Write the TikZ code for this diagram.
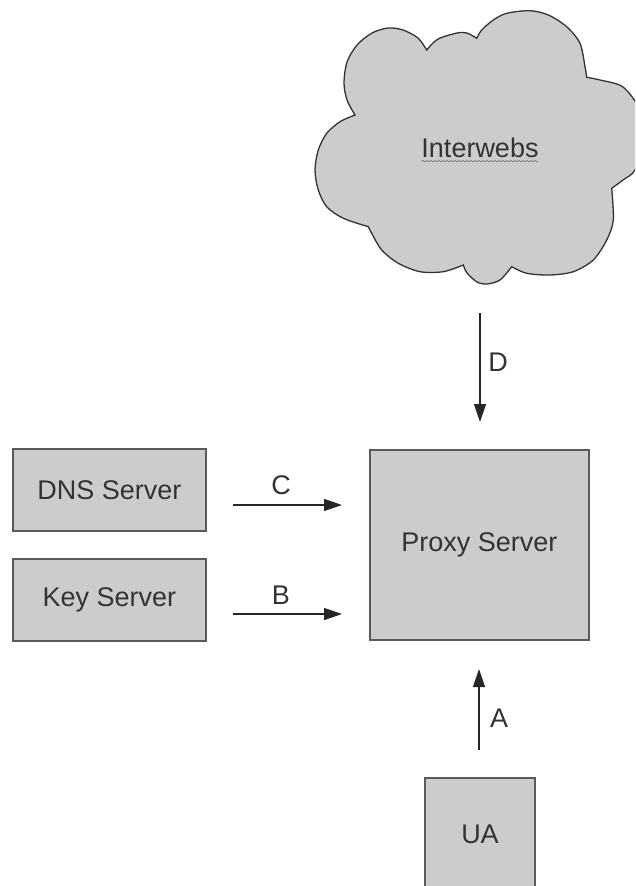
\documentclass[tikz,border=0pt]{standalone}
\usepackage{fontspec}
\setmainfont{Liberation Sans}
\usetikzlibrary{arrows.meta,decorations.pathmorphing}
\definecolor{boxfill}{HTML}{CCCCCC}
\definecolor{boxline}{HTML}{5A5A5A}
\definecolor{inktext}{HTML}{333333}
\definecolor{cloudline}{HTML}{333333}
\tikzset{
  server/.style={draw=boxline, fill=boxfill, line width=1.4pt, inner sep=0pt,
    text=inktext, font=\fontsize{27}{32}\selectfont},
  flow/.style={draw=black!85, line width=1.3pt,
    -{Triangle[length=18pt,width=12pt]}},
  flowlabel/.style={text=inktext, font=\fontsize{27}{32}\selectfont, inner sep=0pt}
}
\begin{document}
\begin{tikzpicture}[x=1pt,y=-1pt]
\useasboundingbox (0,0) rectangle (635,886);
\clip (0,0) rectangle (635,886);

% cloud outline made of lobes meeting at sharp notches
\draw[fill=boxfill, draw=cloudline, line width=1.3pt]
  plot[smooth] coordinates {(426.7,50) (418,38) (403,30) (388,28) (372,33) (357,45) (347,62) (344,83) (347,100) (355,115)}
  -- plot[smooth] coordinates {(355,115) (340,121.7) (326.7,133.3) (318.3,150) (315,170) (318.3,190) (326.7,206.7) (343.3,218.3) (368.3,226.7)}
  -- plot[smooth] coordinates {(368.3,226.7) (371.7,233.3) (381.7,250) (398.3,263.3) (420,271.7) (443.3,271.7) (463.3,265)}
  -- plot[smooth] coordinates {(463.3,265) (467,273) (477,282) (487,284) (500,280) (511.7,266.7)}
  -- plot[smooth] coordinates {(511.7,266.7) (526.7,273.3) (550,275) (573.3,271.7) (593.3,260) (606.7,240) (613.3,220) (611.7,188.3)}
  -- plot[smooth] coordinates {(611.7,188.3) (623,180) (635,170) (645,140) (640,110) (623,87) (600,80) (586.7,77.3)}
  -- plot[smooth] coordinates {(586.7,77.3) (585,66.7) (580,43.3) (566.7,26.7) (548.3,15) (530,10.7) (506.7,13.3) (493.3,20) (481.7,30) (476.7,38.3)}
  -- plot[smooth] coordinates {(476.7,38.3) (467,33) (457,33) (440,38) (433,43) (426.7,50)}
  -- cycle;
\node[flowlabel] (net) at (480,148) {Interwebs};
\draw[boxline!80, line width=0.6pt, decorate,
  decoration={snake, amplitude=0.9pt, segment length=4pt}]
  ([yshift=-3pt]net.south west) -- ([yshift=-3pt]net.south east);

% servers
\node[server, minimum width=193pt, minimum height=82pt] (dns) at (109.5,490) {DNS Server};
\node[server, minimum width=193pt, minimum height=82pt] (key) at (109.5,600) {Key Server};
\node[server, minimum width=219pt, minimum height=190pt] (proxy) at (479.5,545) {Proxy Server};
\node[server, minimum width=110pt, minimum height=112pt] (ua) at (480,834) {UA};

% arrow end points
\coordinate (c1) at (233,505); \coordinate (c2) at (342,505);
\coordinate (b1) at (233,614); \coordinate (b2) at (342,614);
\coordinate (d1) at (480,313); \coordinate (d2) at (480,422);
\coordinate (a1) at (479,750); \coordinate (a2) at (479,669);

\draw[flow] (c1) -- (c2);
\draw[flow] (b1) -- (b2);
\draw[flow] (d1) -- (d2);
\draw[flow] (a1) -- (a2);

\node[flowlabel] (lc) at (281,485) {C};
\node[flowlabel] (lb) at (281,595) {B};
\node[flowlabel] (ld) at (498,362) {D};
\node[flowlabel] (la) at (499,718) {A};
\end{tikzpicture}
\end{document}
